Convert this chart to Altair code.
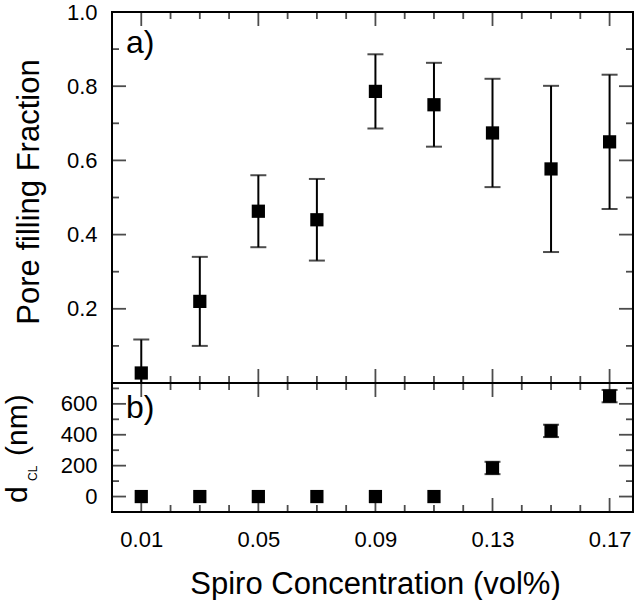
import altair as alt
import pandas as pd

# ---------------- data ----------------
conc = [0.01, 0.03, 0.05, 0.07, 0.09, 0.11, 0.13, 0.15, 0.17]
pore_fraction = [0.027, 0.220, 0.463, 0.440, 0.786, 0.750, 0.674, 0.577, 0.650]
pore_err = [0.090, 0.120, 0.097, 0.110, 0.100, 0.113, 0.146, 0.224, 0.181]
d_cl = [0, 0, 0, 0, 0, 0, 185, 425, 650]
d_cl_err = [0, 0, 0, 0, 0, 0, 40, 40, 40]

x_domain = [0.0, 0.178]
ytop_domain = [0.0, 1.0]
ybot_domain = [-100, 735]

x_major = [0.01, 0.05, 0.09, 0.13, 0.17]
x_minor = [0.02, 0.03, 0.04, 0.06, 0.07, 0.08, 0.10, 0.11, 0.12, 0.14, 0.15, 0.16]
ytop_major = [0.2, 0.4, 0.6, 0.8, 1.0]
ytop_minor = [0.1, 0.3, 0.5, 0.7, 0.9]
ybot_major = [0, 200, 400, 600]
ybot_minor = [100, 300, 500, 700]

x_title = "Spiro Concentration (vol%)"
ytop_title = "Pore filling Fraction"
ybot_title = ["d", "CL", "(nm)"]
panel_labels = ["a)", "b)"]

# ---------------- styling ----------------
FONT = "Liberation Sans"
W, H_TOP, H_BOT = 521, 371, 129
MAJ, MIN = 14, 7
TW = 1.8

xs = alt.Scale(domain=x_domain, nice=False, zero=False)


def ax(orient, values, **kw):
    base = dict(orient=orient, values=values, ticks=False, tickSize=0,
                domain=False, grid=False, labels=True, title=None,
                labelOverlap=False, labelFlush=False, labelFont=FONT,
                labelFontSize=22, labelColor="black")
    base.update(kw)
    return alt.Axis(**base)


def panel(df, df_err, y_domain, y_major, y_minor, y_axis, x_axis, height, texts):
    yscale = alt.Scale(domain=y_domain, nice=False, zero=False)
    X = lambda f: alt.X(f, scale=xs, axis=x_axis)
    Y = lambda f: alt.Y(f, scale=yscale, axis=y_axis)
    layers = []
    # error bars
    if len(df_err):
        err = alt.Chart(df_err)
        layers.append(err.mark_rule(color="black", strokeWidth=2, clip=True).encode(
            x=X("conc:Q"), y=Y("lo:Q"), y2="hi:Q"))
        for col in ["hi", "lo"]:
            layers.append(err.mark_tick(color="black", orient="horizontal", size=16,
                                        thickness=2, clip=True).encode(
                x=X("conc:Q"), y=Y(f"{col}:Q")))
    # squares
    layers.append(alt.Chart(df).mark_square(color="black", opacity=1, size=175).encode(
        x=X("conc:Q"), y=Y("val:Q")))
    for t in texts:
        txt, px, py, fs, angle = t
        layers.append(alt.Chart(pd.DataFrame({"t": [txt]})).mark_text(
            font=FONT, fontSize=fs, align="left", baseline="alphabetic",
            angle=angle, color="black").encode(
            x=alt.value(px), y=alt.value(py), text="t:N"))
    # inward ticks: double-length ticks centred on the frame edges, clipped to the plot
    for vals, size in [(y_major, MAJ), (y_minor, MIN)]:
        d = pd.DataFrame({"x": [e for e in x_domain for _ in vals],
                          "y": [v for _ in x_domain for v in vals]})
        layers.append(alt.Chart(d).mark_tick(
            color="black", orient="horizontal", size=2 * size, thickness=TW,
            clip=True).encode(x=X("x:Q"), y=Y("y:Q")))
    for vals, size in [(x_major, MAJ), (x_minor, MIN)]:
        d = pd.DataFrame({"x": [v for _ in y_domain for v in vals],
                          "y": [e for e in y_domain for _ in vals]})
        layers.append(alt.Chart(d).mark_tick(
            color="black", orient="vertical", size=2 * size, thickness=TW,
            clip=True).encode(x=X("x:Q"), y=Y("y:Q")))
    return alt.layer(*layers).properties(width=W, height=height)


df_top = pd.DataFrame({"conc": conc, "val": pore_fraction, "err": pore_err})
df_top["lo"] = df_top["val"] - df_top["err"]
df_top["hi"] = df_top["val"] + df_top["err"]

df_bot = pd.DataFrame({"conc": conc, "val": d_cl, "err": d_cl_err})
df_bot["lo"] = df_bot["val"] - df_bot["err"]
df_bot["hi"] = df_bot["val"] + df_bot["err"]
df_bot_err = df_bot[df_bot["err"] > 0]

top = panel(
    df_top, df_top, ytop_domain, ytop_major, ytop_minor,
    y_axis=ax("left", ytop_major, format=".1f", labelPadding=15,
              title=ytop_title, titleFont=FONT, titleFontSize=31,
              titleFontWeight="normal", titleColor="black",
              titlePadding=21, titleY=H_TOP / 2 - 6),
    x_axis=ax("bottom", x_major, labels=False),
    height=H_TOP,
    texts=[(panel_labels[0], 14, 41, 32, 0)],
)

bottom = panel(
    df_bot, df_bot_err, ybot_domain, ybot_major, ybot_minor,
    y_axis=ax("left", ybot_major, format="d", labelPadding=15),
    x_axis=ax("bottom", x_major, format=".2f", labelPadding=17,
              title=x_title, titleFont=FONT, titleFontSize=31,
              titleFontWeight="normal", titleColor="black",
              titlePadding=19, titleX=263),
    height=H_BOT,
    texts=[(panel_labels[1], 14, 35, 32, 0),
           (ybot_title[0], -85, 120, 30, 270),
           (ybot_title[1], -75.5, 98, 12, 270),
           (ybot_title[2], -85, 73, 30, 270)],
)

chart = alt.vconcat(top, bottom, spacing=0, bounds="flush").configure_view(
    stroke="black", strokeWidth=2
).properties(padding={"left": 2, "top": 0, "right": 0, "bottom": 0})

chart.save("out.html", embed_options={"renderer": "svg", "actions": False})
